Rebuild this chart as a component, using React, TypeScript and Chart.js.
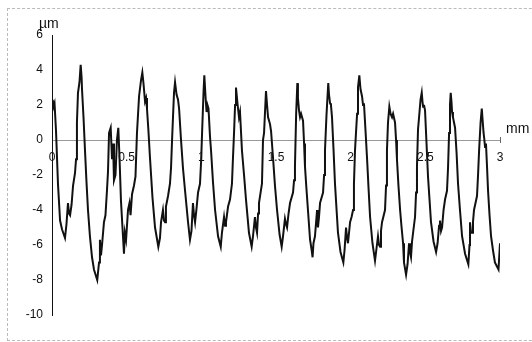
import React, { useEffect, useRef } from "react";
import { Chart, registerables } from "chart.js";

Chart.register(...registerables);

// Surface profile: position along the trace (mm) and height (µm)
const positionMm: number[] = [
  0.005, 0.010, 0.017, 0.027, 0.040, 0.054, 0.067, 0.087, 0.097, 0.107,
  0.114, 0.121, 0.131, 0.141, 0.154, 0.161, 0.167, 0.174, 0.184, 0.192,
  0.198, 0.201, 0.211, 0.221, 0.231, 0.241, 0.254, 0.268, 0.281, 0.303,
  0.315, 0.321, 0.328, 0.335, 0.348, 0.358, 0.368, 0.375, 0.382, 0.393,
  0.402, 0.409, 0.415, 0.425, 0.435, 0.444, 0.452, 0.462, 0.472, 0.482,
  0.488, 0.496, 0.509, 0.519, 0.526, 0.536, 0.549, 0.559, 0.569, 0.583,
  0.596, 0.605, 0.613, 0.623, 0.630, 0.636, 0.646, 0.656, 0.673, 0.690,
  0.712, 0.723, 0.730, 0.743, 0.750, 0.757, 0.763, 0.777, 0.790, 0.797,
  0.804, 0.817, 0.824, 0.834, 0.844, 0.851, 0.864, 0.877, 0.891, 0.911,
  0.924, 0.934, 0.944, 0.951, 0.958, 0.968, 0.978, 0.991, 0.998, 1.005,
  1.015, 1.020, 1.028, 1.035, 1.041, 1.048, 1.058, 1.065, 1.078, 1.092,
  1.112, 1.130, 1.138, 1.152, 1.159, 1.165, 1.179, 1.192, 1.205, 1.212,
  1.219, 1.226, 1.232, 1.242, 1.252, 1.259, 1.272, 1.286, 1.299, 1.319,
  1.337, 1.346, 1.359, 1.366, 1.373, 1.380, 1.386, 1.406, 1.413, 1.420,
  1.433, 1.440, 1.447, 1.460, 1.467, 1.480, 1.493, 1.507, 1.524, 1.538,
  1.547, 1.560, 1.567, 1.574, 1.584, 1.594, 1.614, 1.621, 1.627, 1.635,
  1.643, 1.647, 1.654, 1.661, 1.668, 1.681, 1.688, 1.694, 1.704, 1.714,
  1.728, 1.739, 1.745, 1.751, 1.761, 1.775, 1.781, 1.788, 1.795, 1.815,
  1.822, 1.828, 1.838, 1.850, 1.855, 1.862, 1.868, 1.875, 1.885, 1.895,
  1.915, 1.932, 1.951, 1.959, 1.969, 1.976, 1.982, 1.996, 2.006, 2.016,
  2.022, 2.029, 2.043, 2.049, 2.058, 2.066, 2.076, 2.083, 2.089, 2.099,
  2.110, 2.120, 2.130, 2.146, 2.163, 2.173, 2.183, 2.190, 2.197, 2.203,
  2.210, 2.230, 2.237, 2.243, 2.250, 2.259, 2.267, 2.277, 2.284, 2.297,
  2.304, 2.310, 2.320, 2.331, 2.341, 2.351, 2.357, 2.371, 2.381, 2.391,
  2.397, 2.404, 2.411, 2.418, 2.431, 2.438, 2.444, 2.451, 2.458, 2.468,
  2.476, 2.481, 2.485, 2.491, 2.498, 2.508, 2.518, 2.528, 2.538, 2.555,
  2.572, 2.582, 2.592, 2.598, 2.605, 2.612, 2.622, 2.632, 2.645, 2.652,
  2.659, 2.665, 2.670, 2.675, 2.679, 2.685, 2.692, 2.699, 2.709, 2.719,
  2.732, 2.746, 2.766, 2.788, 2.796, 2.799, 2.806, 2.813, 2.819, 2.826,
  2.836, 2.846, 2.853, 2.860, 2.870, 2.878, 2.883, 2.890, 2.893, 2.900,
  2.906, 2.913, 2.920, 2.930, 2.940, 2.953, 2.966, 2.978, 2.990, 3.000,
];

const heightUm: number[] = [
  2.3, 1.9, 2.1, 0.5, -2.5, -4.6, -5.1, -5.6, -4.8, -3.6,
  -4.2, -4.3, -3.7, -2.6, -1.9, -1.1, 1.0, 2.7, 3.3, 4.3,
  3.6, 2.9, 1.3, -0.6, -2.4, -4.0, -5.5, -6.7, -7.4, -8.0,
  -7.0, -5.7, -6.6, -6.0, -4.7, -4.3, -2.9, -1.8, 0.4, 0.7,
  -1.1, -0.2, -2.3, -2.0, 0.0, 0.7, -1.0, -3.5, -5.0, -6.5,
  -5.3, -5.7, -4.0, -3.6, -4.3, -3.1, -2.6, -2.1, 0.4, 2.5,
  3.4, 3.85, 3.2, 2.2, 2.4, 1.8, 0.5, -1.0, -3.3, -5.0,
  -6.1, -5.6, -4.7, -4.0, -4.6, -4.7, -3.8, -3.2, -2.5, -1.6,
  0.0, 2.7, 3.3, 2.6, 2.3, 1.8, 0.0, -1.6, -2.9, -4.7,
  -5.7, -5.2, -3.6, -4.3, -4.7, -3.9, -3.0, -2.5, -1.3, 0.4,
  2.8, 3.7, 2.5, 1.6, 2.0, 1.8, 0.2, -0.6, -2.4, -4.0,
  -5.5, -6.1, -5.3, -4.4, -4.9, -4.7, -3.8, -3.4, -2.5, -1.0,
  0.4, 2.0, 3.0, 2.1, 1.3, 1.6, -0.6, -2.0, -3.4, -5.3,
  -6.1, -5.5, -4.4, -5.0, -5.3, -4.2, -3.6, -2.5, 0.0, 0.4,
  2.8, 2.0, 1.3, 0.9, 0.5, -1.0, -2.6, -4.0, -5.4, -6.1,
  -5.5, -4.5, -4.8, -5.0, -4.2, -3.6, -3.0, -2.3, -1.5, 1.5,
  3.25, 2.4, 1.7, 1.3, 1.5, 1.1, -0.2, -1.5, -2.8, -4.0,
  -5.7, -6.3, -6.7, -5.9, -5.5, -4.0, -5.0, -4.4, -3.6, -3.0,
  -2.0, -0.6, 1.4, 3.25, 2.6, 2.1, 2.0, 1.3, -0.5, -2.5,
  -5.3, -6.4, -7.0, -6.3, -5.0, -5.6, -5.9, -4.7, -4.4, -4.0,
  -2.5, -0.6, 1.5, 3.0, 3.7, 2.9, 2.5, 2.0, 2.1, 0.6,
  -1.1, -2.8, -4.4, -5.9, -6.9, -6.2, -5.5, -6.0, -6.1, -5.2,
  -4.7, -4.0, -2.6, -0.6, 1.0, 1.9, 1.5, 1.3, 1.5, 1.0,
  0.0, -1.1, -2.6, -4.0, -5.0, -5.9, -7.0, -7.7, -7.1, -5.9,
  -6.4, -6.7, -5.8, -5.3, -4.4, -3.0, -1.5, 0.6, 1.3, 2.3,
  2.7, 2.2, 1.9, 2.0, 1.7, -0.2, -2.1, -3.4, -4.7, -5.8,
  -6.4, -5.9, -4.9, -4.6, -5.2, -5.0, -4.0, -3.4, -2.9, -1.6,
  0.4, 2.0, 2.7, 2.2, 1.6, 1.3, 1.0, 0.7, -0.7, -2.5,
  -4.0, -5.5, -6.5, -7.1, -6.0, -4.7, -5.3, -5.3, -4.7, -4.0,
  -3.6, -3.2, -2.0, -0.6, 1.0, 1.8, 1.2, 0.4, 0.2, -0.4,
  -0.2, -1.5, -2.9, -4.3, -5.5, -6.3, -7.0, -7.2, -7.4, -5.9,
];

const xTickStep = 0.5;
const yTickStep = 2;
const xRange: [number, number] = [0, 3];
const yRange: [number, number] = [-10, 6];
const xUnit = "mm";
const yUnit = "µm";

const FONT = '"Liberation Sans", Arial, sans-serif';

// Unit captions at the ends of both axes
const unitLabels = {
  id: "unitLabels",
  afterDraw(chart: Chart) {
    const { ctx, scales } = chart;
    const xs = scales.x;
    const ys = scales.y;
    ctx.save();
    ctx.fillStyle = "#111";
    ctx.font = `14px ${FONT}`;
    ctx.textBaseline = "alphabetic";
    ctx.textAlign = "left";
    ctx.fillText(yUnit, xs.getPixelForValue(xRange[0]) - 13, ys.getPixelForValue(yRange[1]) - 7);
    ctx.fillText(xUnit, xs.getPixelForValue(xRange[1]) + 6, ys.getPixelForValue(0) - 7);
    // small end mark on the horizontal axis
    const ex = xs.getPixelForValue(xRange[1]);
    const ey = ys.getPixelForValue(0);
    ctx.strokeStyle = "#666";
    ctx.lineWidth = 1;
    ctx.beginPath();
    ctx.moveTo(ex + 0.5, ey - 3);
    ctx.lineTo(ex + 0.5, ey + 3);
    ctx.stroke();
    ctx.restore();
  },
};

export default function App() {
  const canvasRef = useRef<HTMLCanvasElement | null>(null);

  useEffect(() => {
    if (!canvasRef.current) return;
    const points = positionMm.map((x, i) => ({ x, y: heightUm[i] }));
    const chart = new Chart(canvasRef.current, {
      type: "scatter",
      data: {
        datasets: [
          {
            data: points,
            showLine: true,
            borderColor: "#111",
            borderWidth: 2,
            pointRadius: 0,
            tension: 0,
          },
        ],
      },
      options: {
        responsive: false,
        animation: false,
        events: [],
        layout: { padding: { left: 0, right: 32, top: 35, bottom: 27 } },
        plugins: {
          legend: { display: false },
          tooltip: { enabled: false },
        },
        scales: {
          x: {
            type: "linear",
            min: xRange[0],
            max: xRange[1],
            position: { y: 0 },
            grid: { display: false, drawTicks: false },
            border: { display: true, color: "#999", width: 1, dash: [2, 5] },
            ticks: {
              stepSize: xTickStep,
              padding: 10,
              color: "#111",
              font: { family: FONT, size: 12 },
              maxRotation: 0,
              callback: (v) => String(v),
            },
          },
          y: {
            type: "linear",
            min: yRange[0],
            max: yRange[1],
            grid: { display: false, drawTicks: false },
            border: { display: true, color: "#111", width: 1 },
            ticks: {
              stepSize: yTickStep,
              padding: 9,
              color: "#111",
              font: { family: FONT, size: 12 },
            },
            afterFit: (scale) => {
              scale.width = 52;
            },
          },
        },
      },
      plugins: [unitLabels],
    });
    return () => chart.destroy();
  }, []);

  return (
    <div style={{ position: "absolute", left: 0, top: 0, width: 532, height: 342, background: "#fff", overflow: "hidden" }}>
      <div
        style={{
          position: "absolute",
          left: 7,
          top: 8,
          width: 560,
          height: 333,
          border: "1px dashed #bbb",
          boxSizing: "border-box",
        }}
      />
      <canvas ref={canvasRef} width={532} height={342} style={{ position: "absolute", left: 0, top: 0 }} />
    </div>
  );
}
